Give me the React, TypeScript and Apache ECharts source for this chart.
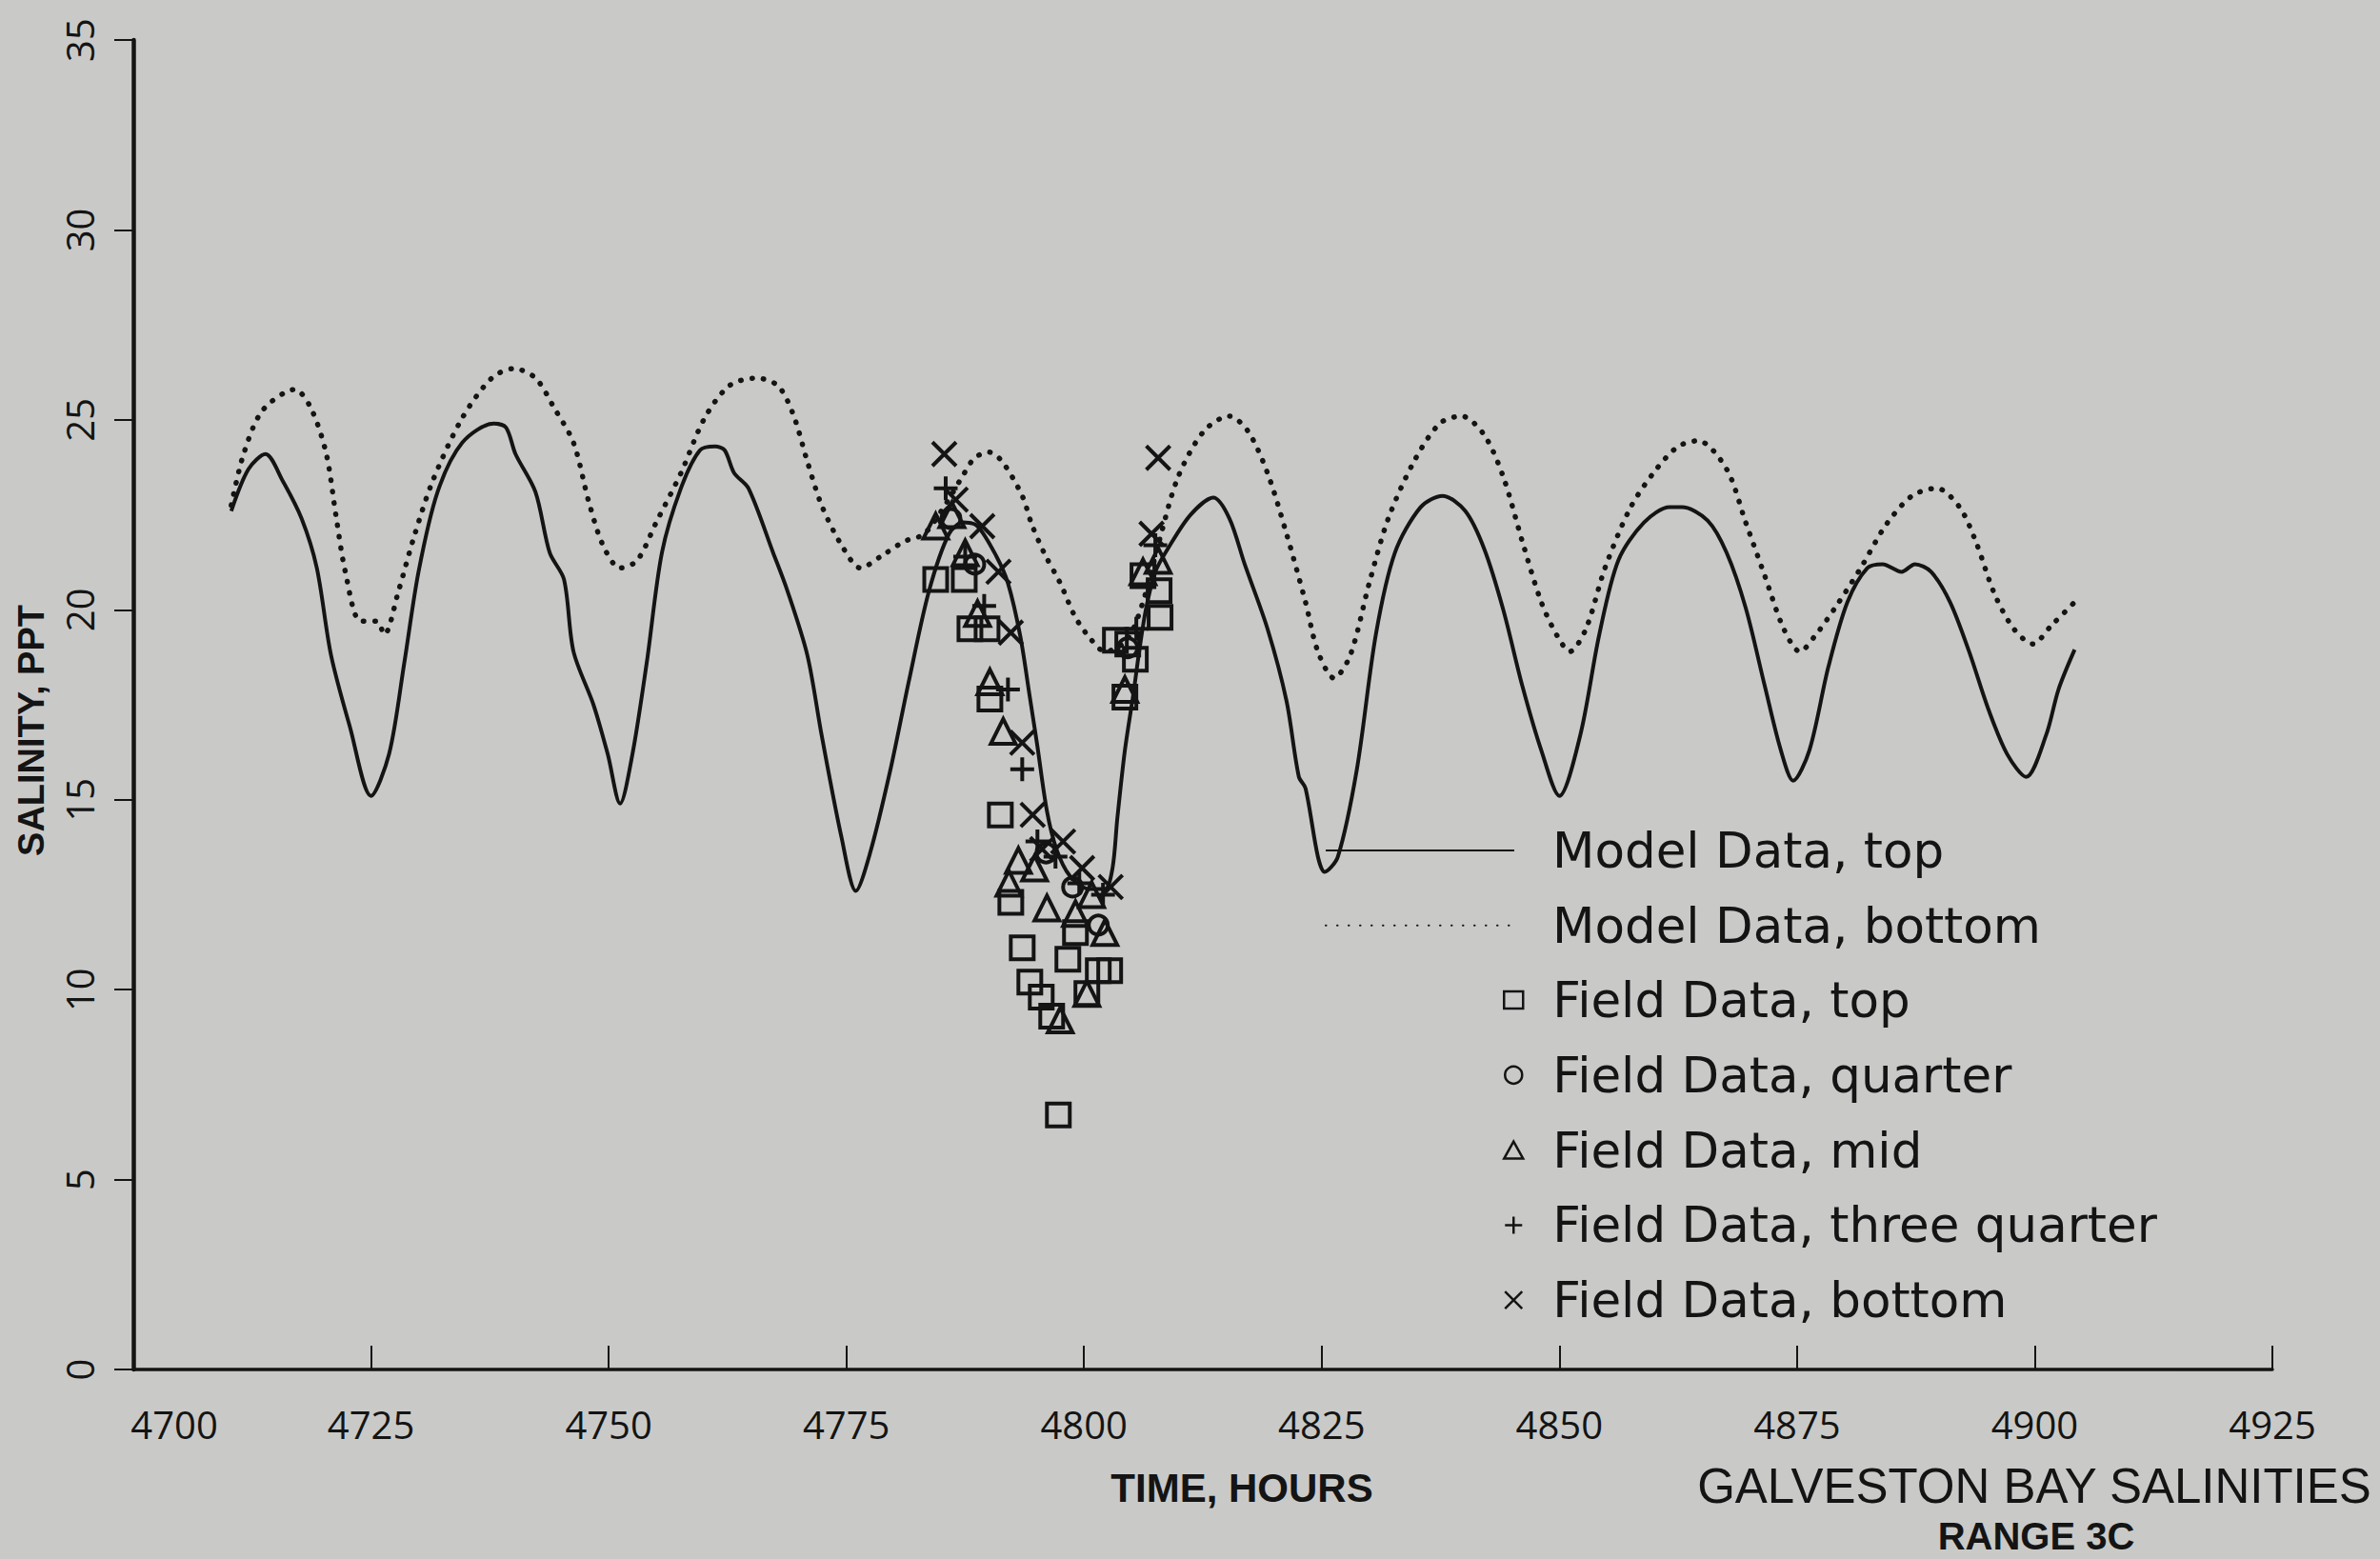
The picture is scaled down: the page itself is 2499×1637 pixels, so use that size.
import React, { useEffect, useRef } from "react";
import * as echarts from "echarts";

// Model data, top layer: [hour, salinity ppt]
const MODEL_TOP: [number, number][] = [
  [4710.3, 22.6], [4712.1, 23.7], [4713.9, 24.1], [4715.7, 23.4], [4717.7, 22.4], [4719.3, 21.1],
  [4720.8, 18.8], [4722.8, 16.9], [4725.0, 15.1], [4726.9, 16.2], [4728.5, 18.6], [4730.0, 21.0],
  [4732.0, 23.1], [4734.6, 24.4], [4737.9, 24.9], [4739.2, 24.8], [4740.2, 24.1], [4742.3, 23.1],
  [4743.8, 21.5], [4745.3, 20.8], [4746.3, 18.9], [4748.4, 17.5], [4749.9, 16.2], [4751.2, 14.9],
  [4752.5, 16.2], [4754.0, 18.6], [4755.6, 21.5], [4757.6, 23.2], [4759.6, 24.2], [4761.2, 24.3],
  [4762.2, 24.2], [4763.2, 23.6], [4764.7, 23.2], [4767.3, 21.5], [4768.8, 20.5], [4770.9, 18.8],
  [4772.4, 16.7], [4774.5, 14.0], [4776.0, 12.6], [4777.5, 13.6], [4779.6, 15.75], [4781.6, 18.15],
  [4783.7, 20.5], [4785.8, 22.0], [4787.3, 22.3], [4788.8, 22.2], [4790.8, 21.4], [4792.0, 20.7],
  [4793.3, 19.3], [4794.3, 17.7], [4795.1, 16.4], [4796.1, 14.7], [4797.1, 13.7], [4798.5, 13.0],
  [4800.5, 12.65], [4802.2, 12.65], [4803.0, 13.2], [4803.5, 14.5], [4804.3, 16.3], [4805.2, 17.8],
  [4805.8, 18.9], [4806.5, 20.0], [4807.5, 21.0], [4808.8, 21.6], [4811.2, 22.5], [4813.6, 22.95],
  [4815.3, 22.4], [4816.9, 21.2], [4819.3, 19.5], [4821.3, 17.6], [4822.6, 15.6], [4823.3, 15.3],
  [4824.6, 13.5], [4825.3, 13.1], [4826.7, 13.5], [4828.7, 15.8], [4830.7, 19.35], [4832.7, 21.5],
  [4835.4, 22.7], [4837.7, 23.0], [4840.1, 22.6], [4842.1, 21.6], [4844.1, 20.0], [4846.1, 18.0],
  [4848.1, 16.3], [4850.0, 15.1], [4852.2, 16.7], [4854.2, 19.35], [4856.2, 21.3], [4858.9, 22.3],
  [4861.6, 22.7], [4862.9, 22.7], [4865.6, 22.35], [4867.6, 21.5], [4869.6, 20.05], [4871.6, 18.0],
  [4873.3, 16.3], [4874.6, 15.5], [4876.3, 16.3], [4878.3, 18.5], [4880.3, 20.2], [4882.4, 21.1],
  [4884.0, 21.2], [4886.0, 21.0], [4887.4, 21.2], [4889.1, 21.0], [4891.1, 20.2], [4893.1, 18.9],
  [4895.1, 17.4], [4897.1, 16.2], [4899.1, 15.6], [4901.2, 16.7], [4902.5, 17.9], [4904.2, 18.95],
];

// Model data, bottom layer
const MODEL_BOTTOM: [number, number][] = [
  [4710.3, 22.75], [4711.6, 24.1], [4713.6, 25.25], [4717.0, 25.8], [4718.7, 25.3], [4720.3, 24.1],
  [4721.3, 22.5], [4722.3, 21.0], [4723.9, 19.7], [4725.6, 19.7], [4726.4, 19.35], [4727.9, 20.5],
  [4729.5, 21.9], [4731.5, 23.4], [4734.6, 25.05], [4737.7, 26.1], [4740.0, 26.35], [4742.3, 26.1],
  [4744.3, 25.3], [4746.3, 24.4], [4747.9, 22.85], [4749.4, 21.7], [4751.2, 21.1], [4753.0, 21.3],
  [4755.0, 22.3], [4757.6, 23.6], [4760.1, 25.05], [4762.7, 25.9], [4765.5, 26.1], [4767.8, 25.9],
  [4769.4, 25.15], [4770.9, 23.9], [4772.4, 22.75], [4774.5, 21.7], [4776.5, 21.1], [4778.6, 21.4],
  [4781.1, 21.8], [4783.2, 22.0], [4785.5, 22.8], [4787.3, 23.55], [4788.5, 24.0], [4790.0, 24.15],
  [4791.4, 23.9], [4793.5, 23.0], [4794.5, 22.25], [4795.8, 21.5], [4797.5, 20.7], [4799.1, 19.8],
  [4800.8, 19.2], [4802.2, 18.9], [4804.5, 19.2], [4806.2, 20.2], [4807.9, 21.8], [4809.9, 23.5],
  [4812.6, 24.7], [4815.25, 25.1], [4817.25, 24.7], [4819.3, 23.6], [4821.3, 22.0], [4823.3, 20.2],
  [4824.6, 18.9], [4826.3, 18.2], [4828.0, 18.8], [4830.0, 20.7], [4832.0, 22.4], [4834.7, 23.9],
  [4837.4, 24.9], [4839.7, 25.1], [4842.1, 24.6], [4844.1, 23.5], [4846.1, 21.8], [4848.1, 20.2],
  [4849.8, 19.3], [4851.1, 18.9], [4852.8, 19.5], [4854.8, 21.1], [4857.5, 22.7], [4860.2, 23.7],
  [4862.5, 24.3], [4864.6, 24.45], [4867.6, 23.7], [4869.6, 22.3], [4871.6, 20.9], [4873.6, 19.5],
  [4875.3, 18.9], [4877.0, 19.35], [4879.0, 20.05], [4881.7, 21.1], [4884.4, 22.25], [4887.1, 23.0],
  [4889.7, 23.2], [4892.1, 22.7], [4893.8, 21.8], [4895.8, 20.4], [4897.8, 19.5], [4899.8, 19.1],
  [4901.8, 19.6], [4904.2, 20.2],
];

// Field measurements
const FIELD_TOP: [number, number][] = [
  [4784.4, 20.8], [4787.4, 20.8], [4788.0, 19.5], [4789.8, 19.5], [4790.1, 17.65], [4791.2, 14.6],
  [4792.3, 12.3], [4793.5, 11.1], [4794.3, 10.2], [4795.5, 9.8], [4796.6, 9.3], [4797.3, 6.7],
  [4798.3, 10.8], [4799.1, 11.5], [4800.3, 9.9], [4801.5, 10.5], [4802.7, 10.5], [4803.3, 19.2],
  [4804.6, 19.1], [4805.4, 18.7], [4804.3, 17.7], [4806.2, 20.9], [4807.9, 20.5], [4808.0, 19.8],
];
const FIELD_QUARTER: [number, number][] = [
  [4786.0, 22.4], [4788.5, 21.2], [4796.0, 13.6], [4798.8, 12.7], [4801.5, 11.7], [4804.6, 19.0],
];
const FIELD_MID: [number, number][] = [
  [4784.4, 22.2], [4786.1, 22.5], [4787.5, 21.5], [4788.8, 19.9], [4790.1, 18.1], [4791.5, 16.8],
  [4792.1, 12.8], [4793.1, 13.4], [4794.8, 13.2], [4796.1, 12.15], [4797.5, 9.2], [4799.1, 12.0],
  [4800.3, 9.9], [4800.8, 12.5], [4802.2, 11.5], [4804.3, 17.9], [4806.2, 21.0], [4807.8, 21.3],
];
const FIELD_THREE_QUARTER: [number, number][] = [
  [4785.45, 23.2], [4787.5, 21.4], [4789.5, 20.1], [4792.0, 17.9], [4793.5, 15.8], [4795.1, 13.9],
  [4797.0, 13.5], [4799.5, 12.8], [4802.0, 12.5], [4805.5, 19.5], [4807.5, 21.7],
];
const FIELD_BOTTOM: [number, number][] = [
  [4785.3, 24.1], [4786.5, 22.9], [4789.3, 22.2], [4791.0, 21.0], [4792.3, 19.4], [4793.5, 16.5],
  [4794.6, 14.6], [4795.6, 13.7], [4797.8, 13.9], [4799.8, 13.2], [4802.8, 12.7], [4807.8, 24.0],
  [4807.1, 22.0],
];

const X_MIN = 4700;
const X_MAX = 4925;
const X_STEP = 25;
const Y_MIN = 0;
const Y_MAX = 35;
const Y_STEP = 5;

const INK = "#141414";
const BG = "#c9cac8";
const ROUND_FONT = "'Open Sans', 'DejaVu Sans', sans-serif";
const LEGEND_FONT = "'DejaVu Sans', 'Open Sans', sans-serif";
const PLAIN_FONT = "'Liberation Sans', Arial, sans-serif";

const PLUS = "path://M12,0 L12,24 M0,12 L24,12";
const CROSS = "path://M0,0 L24,24 M24,0 L0,24";

function scatter(name: string, data: [number, number][], symbol: string, size: number) {
  return {
    name,
    type: "scatter",
    data,
    symbol,
    symbolSize: size,
    z: 4,
    itemStyle: { color: "rgba(0,0,0,0)", borderColor: INK, borderWidth: 4, opacity: 1 },
  };
}

export default function App() {
  const ref = useRef<HTMLDivElement>(null);

  useEffect(() => {
    if (!ref.current) return;
    const chart = echarts.init(ref.current, null, { renderer: "svg" });
    const legendText = {
      color: INK,
      fontFamily: LEGEND_FONT,
      fontSize: 51.5,
      lineHeight: 58,
    };
    chart.setOption({
      animation: false,
      backgroundColor: BG,
      grid: {
        left: 140,
        right: 113,
        top: 42,
        bottom: 199,
        containLabel: false,
        outerBoundsMode: "none",
      },
      xAxis: {
        type: "value",
        min: X_MIN,
        max: X_MAX,
        interval: X_STEP,
        name: "TIME, HOURS",
        nameLocation: "middle",
        nameGap: 103,
        nameTextStyle: {
          color: INK,
          fontFamily: PLAIN_FONT,
          fontSize: 42,
          fontWeight: "bold",
          padding: [0, 0, 0, 82],
        },
        axisLine: { show: true, lineStyle: { color: INK, width: 3.5 } },
        axisTick: { show: true, inside: true, length: 25, lineStyle: { color: INK, width: 2 } },
        splitLine: { show: false },
        axisLabel: {
          color: INK,
          fontFamily: ROUND_FONT,
          fontSize: 40,
          margin: 37,
          formatter: (v: number) => (v === X_MIN ? "{first|" + v + "}" : String(v)),
          rich: {
            first: {
              color: INK,
              fontFamily: ROUND_FONT,
              fontSize: 40,
              padding: [0, 0, 0, 86],
            },
          },
        },
      },
      yAxis: {
        type: "value",
        min: Y_MIN,
        max: Y_MAX,
        interval: Y_STEP,
        name: "SALINITY, PPT",
        nameLocation: "middle",
        nameGap: 88,
        nameTextStyle: {
          color: INK,
          fontFamily: PLAIN_FONT,
          fontSize: 38,
          fontWeight: "bold",
          padding: [0, 54, 0, 0],
        },
        axisLine: { show: true, lineStyle: { color: INK, width: 4.5 } },
        axisTick: { show: true, inside: false, length: 20, lineStyle: { color: INK, width: 2 } },
        splitLine: { show: false },
        axisLabel: {
          color: INK,
          fontFamily: ROUND_FONT,
          fontSize: 40,
          rotate: 90,
          margin: 37,
        },
      },
      legend: [
        {
          data: ["Model Data, top", "Model Data, bottom"],
          orient: "vertical",
          left: 1391,
          top: 864,
          padding: 0,
          itemWidth: 198,
          itemHeight: 20,
          itemGap: 20.8,
          selectedMode: false,
          itemStyle: { opacity: 0 },
          textStyle: { ...legendText, padding: [0, 0, 0, 35] },
        },
        {
          data: [
            "Field Data, top",
            "Field Data, quarter",
            "Field Data, mid",
            "Field Data, three quarter",
            "Field Data, bottom",
          ],
          orient: "vertical",
          left: 1578,
          top: 1021,
          padding: 0,
          itemWidth: 20,
          itemHeight: 18,
          itemGap: 20.8,
          selectedMode: false,
          itemStyle: { borderWidth: 2.5 },
          textStyle: { ...legendText, padding: [0, 0, 0, 26] },
        },
      ],
      graphic: [
        {
          type: "text",
          x: 2136,
          y: 1560,
          style: {
            text: "GALVESTON BAY SALINITIES",
            fill: INK,
            font: "51px " + PLAIN_FONT,
            align: "center",
            verticalAlign: "middle",
          },
        },
        {
          type: "text",
          x: 2138,
          y: 1613,
          style: {
            text: "RANGE 3C",
            fill: INK,
            font: "bold 40px " + PLAIN_FONT,
            align: "center",
            verticalAlign: "middle",
          },
        },
      ],
      series: [
        {
          name: "Model Data, top",
          type: "line",
          data: MODEL_TOP,
          symbol: "none",
          smooth: 0.3,
          z: 2,
          lineStyle: { color: INK, width: 4 },
          itemStyle: { color: INK },
        },
        {
          name: "Model Data, bottom",
          type: "line",
          data: MODEL_BOTTOM,
          symbol: "none",
          smooth: 0.3,
          z: 2,
          lineStyle: { color: INK, width: 5.5, type: [0.5, 11.5], cap: "round" },
          itemStyle: { color: INK },
        },
        scatter("Field Data, top", FIELD_TOP, "rect", 24),
        scatter("Field Data, quarter", FIELD_QUARTER, "circle", 20),
        scatter("Field Data, mid", FIELD_MID, "triangle", 26),
        scatter("Field Data, three quarter", FIELD_THREE_QUARTER, PLUS, 25),
        scatter("Field Data, bottom", FIELD_BOTTOM, CROSS, 25),
      ],
    });
    return () => chart.dispose();
  }, []);

  return (
    <div
      ref={ref}
      style={{ position: "fixed", left: 0, top: 0, width: 2499, height: 1637 }}
    />
  );
}
